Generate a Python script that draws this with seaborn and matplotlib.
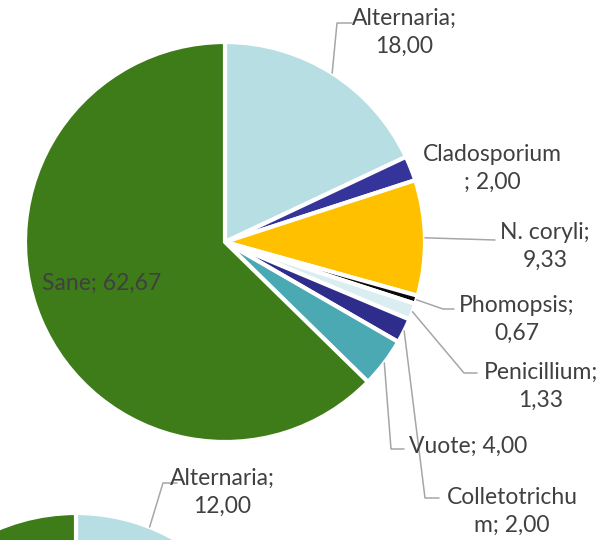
import matplotlib
matplotlib.use("Agg")
import matplotlib.pyplot as plt
import seaborn as sns
import numpy as np

# --- data -------------------------------------------------------------
categories = ["Alternaria", "Cladosporium", "N. coryli", "Phomopsis",
              "Penicillium", "Colletotrichum", "Vuote", "Sane"]
values_top = [18.00, 2.00, 9.33, 0.67, 1.33, 2.00, 4.00, 62.67]
# second pie is cut by the bottom edge, only Alternaria is readable
values_bottom = [12.00, 2.00, 8.00, 0.67, 1.33, 2.00, 4.00, 70.00]
colors = ["#b7dfe3", "#35349a", "#ffc000", "#0a0a0a",
          "#daedf0", "#2e2d8c", "#4aa9b2", "#3d7c19"]

# how Excel wrapped each label (None = single line)
wrap_at = {"Alternaria": "; ", "Cladosporium": "Cladosporium", "N. coryli": "; ",
           "Phomopsis": "; ", "Penicillium": "; ", "Colletotrichum": "Colletotrichu"}


def fmt_label(name, val):
    txt = f"{name}; " + f"{val:.2f}".replace(".", ",")
    brk = wrap_at.get(name)
    if brk is None:
        return txt
    i = txt.index(brk) + len(brk)
    return txt[:i].rstrip() + "\n" + txt[i:]


W, H = 613, 540
sns.set_theme(style="white")
plt.rcParams["font.family"] = ["Lato", "DejaVu Sans"]
TXT = "#404040"
LINE = "#a6a6a6"
FS = 16.5
LS = 1.4

fig = plt.figure(figsize=(W / 100, H / 100), dpi=100)
ax = fig.add_axes([0, 0, 1, 1])

# pixel-like coordinates, y pointing down
c1, r1 = (225, 242), 200
c2, r2 = (76, 713), 200
wedge_kw = dict(linewidth=3, edgecolor="white")
w1, _ = ax.pie(values_top, colors=colors, center=c1, radius=r1,
               startangle=-90, counterclock=True, wedgeprops=wedge_kw, frame=True)
w2, _ = ax.pie(values_bottom, colors=colors, center=c2, radius=r2,
               startangle=-90, counterclock=True, wedgeprops=wedge_kw, frame=True)


def edge_point(w, center, r):
    th = np.deg2rad((w.theta1 + w.theta2) / 2)
    return center[0] + r * np.cos(th), center[1] + r * np.sin(th)


# label layout: (text x centre, last-line baseline y, leader path after the edge point)
layout_top = {
    "Alternaria": (404, 53, [(337, 23), (352, 23)]),
    "Cladosporium": (492, 189, None),
    "N. coryli": (545, 267, [(495, 240)]),
    "Phomopsis": (517, 340, [(443, 309), (454, 309)]),
    "Penicillium": (541, 407, [(464, 373), (477, 373)]),
    "Colletotrichum": (512, 532, [(425, 498), (439, 498)]),
    "Vuote": (468, 453, [(391, 449), (404, 449)]),
    "Sane": (102, 290, None),
}

for i, name in enumerate(categories):
    x, y, path = layout_top[name]
    ax.text(x, y, fmt_label(name, values_top[i]), ha="center", va="baseline",
            multialignment="center", fontsize=FS, color=TXT, linespacing=LS)
    if path:
        px, py = edge_point(w1[i], c1, r1)
        xs = [px] + [p[0] for p in path]
        ys = [py] + [p[1] for p in path]
        ax.plot(xs, ys, color=LINE, lw=1.1)

# bottom pie label
ax.text(222, 513, fmt_label(categories[0], values_bottom[0]), ha="center", va="baseline",
        multialignment="center", fontsize=FS, color=TXT, linespacing=LS)
px, py = edge_point(w2[0], c2, r2)
ax.plot([px, 163, 177], [py, 483, 483], color=LINE, lw=1.1)

ax.set_xlim(0, W)
ax.set_ylim(H, 0)
ax.set_aspect("equal")
ax.axis("off")

fig.savefig("out.png", dpi=100)
